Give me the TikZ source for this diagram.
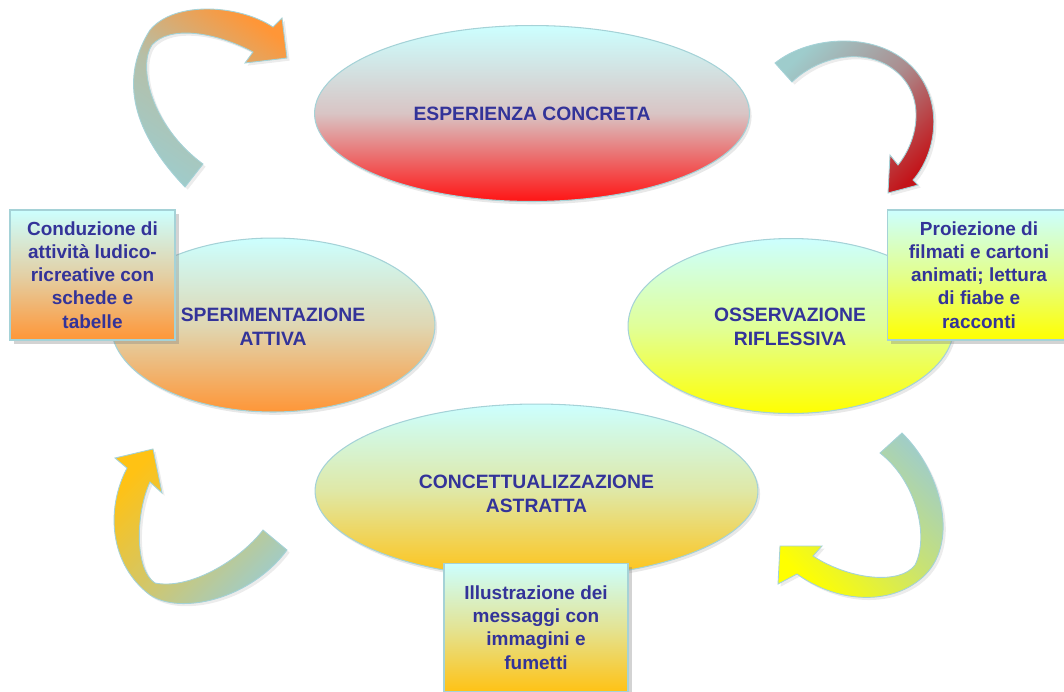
\documentclass[tikz,border=0pt]{standalone}
\usepackage{fontspec}
\setmainfont{Liberation Sans}
\usetikzlibrary{positioning,shapes.geometric,shadows}

\definecolor{paleCyan}{RGB}{204,255,255}
\definecolor{ribbonCyan}{RGB}{158,204,204}
\definecolor{hotRed}{RGB}{255,20,20}
\definecolor{deepRed}{RGB}{195,20,25}
\definecolor{warmOrange}{RGB}{255,150,55}
\definecolor{sunYellow}{RGB}{255,255,0}
\definecolor{goldYellow}{RGB}{255,194,20}
\definecolor{inkBlue}{RGB}{51,51,153}
\definecolor{rimBlue}{RGB}{165,210,215}

\tikzset{
  phase/.style={ellipse, inner sep=0pt, draw=rimBlue, line width=0.6pt, top color=paleCyan,
    drop shadow={opacity=0.18, shadow xshift=1.2pt, shadow yshift=-1.6pt}},
  phasetext/.style={font=\fontsize{11}{13.6}\selectfont\bfseries, text=inkBlue, align=center},
  actbox/.style={rectangle, inner sep=0pt, minimum height=2.6cm, draw=rimBlue, line width=0.6pt,
    top color=paleCyan, font=\fontsize{10.8}{13.2}\selectfont\bfseries, text=inkBlue, align=center,
    drop shadow={opacity=0.35, shadow xshift=2pt, shadow yshift=-2pt}},
  ribbon/.style={draw=rimBlue, line width=0.5pt,
    drop shadow={opacity=0.15, shadow xshift=1.5pt, shadow yshift=-1.5pt}}
}

\begin{document}
\begin{tikzpicture}[x=0.02cm, y=-0.02cm]
  \useasboundingbox (0,0) rectangle (1064,691);

  % the four phases of the cycle
  \node[phase, minimum width=8.7cm, minimum height=3.52cm, bottom color=hotRed, middle color=paleCyan!75!hotRed] (concrete) at (532,113.5) {};
  \node[phase, minimum width=6.48cm, minimum height=3.48cm, bottom color=warmOrange, middle color=paleCyan!62!warmOrange] (active) at (273,325) {};
  \node[phase, minimum width=6.52cm, minimum height=3.5cm, bottom color=sunYellow, middle color=paleCyan!60!sunYellow] (reflect) at (791,326) {};
  \node[phase, minimum width=8.86cm, minimum height=3.48cm, bottom color=goldYellow, middle color=paleCyan!62!goldYellow] (abstract) at (536.5,491) {};

  \node[phasetext] (concreteText) at (532,114) {ESPERIENZA CONCRETA};
  \node[phasetext] (activeText) at (273,327) {SPERIMENTAZIONE\\ATTIVA};
  \node[phasetext] (reflectText) at (790,327) {OSSERVAZIONE\\RIFLESSIVA};
  \node[phasetext] (abstractText) at (536.5,493.5) {CONCETTUALIZZAZIONE\\ASTRATTA};

  % activities
  \node[actbox, minimum width=3.3cm, bottom color=warmOrange, middle color=paleCyan!55!warmOrange] (activeBox) at (92.5,275) {Conduzione di\\attività ludico-\\ricreative con\\schede e\\tabelle};
  \node[actbox, minimum width=3.68cm, bottom color=sunYellow, middle color=paleCyan!55!sunYellow] (reflectBox) at (979,275) {Proiezione di\\filmati e cartoni\\animati; lettura\\di fiabe e\\racconti};
  \node[actbox, minimum width=3.68cm, minimum height=2.58cm, bottom color=goldYellow, middle color=paleCyan!55!goldYellow] (abstractBox) at (536,627.5) {Illustrazione dei\\messaggi con\\immagini e\\fumetti};

  % curved arrows
  \path[ribbon, bottom color=ribbonCyan, top color=warmOrange, middle color=ribbonCyan!75!warmOrange, shading angle=-34]
    (185,187) .. controls (140,140) and (115,85) .. (150,30) .. controls (175,0) and (240,5) .. (273,27)
    -- (282,18) -- (287,58) -- (245,63) -- (253,52)
    .. controls (215,32) and (170,25) .. (152,45) .. controls (138,65) and (150,125) .. (203,164) -- cycle;
  \path[ribbon, top color=ribbonCyan, bottom color=deepRed, middle color=ribbonCyan!65!deepRed, shading angle=45]
    (775,63) .. controls (810,35) and (880,30) .. (915,70) .. controls (945,105) and (935,155) .. (913,180)
    -- (918,185) -- (888,193) -- (890,155) -- (898,165)
    .. controls (918,140) and (925,100) .. (900,75) .. controls (870,45) and (820,55) .. (792,82) -- cycle;
  \path[ribbon, top color=goldYellow, bottom color=ribbonCyan, middle color=ribbonCyan!45!goldYellow, shading angle=45]
    (287,550) .. controls (250,600) and (180,615) .. (150,595) .. controls (110,565) and (105,510) .. (127,468)
    -- (115,458) -- (153,449) -- (162,493) -- (150,482)
    .. controls (135,515) and (135,570) .. (155,583) .. controls (190,590) and (240,560) .. (263,530) -- cycle;
  \path[ribbon, top color=ribbonCyan, bottom color=sunYellow, middle color=ribbonCyan!55!sunYellow, shading angle=-45]
    (902,433) .. controls (940,470) and (960,540) .. (925,575) .. controls (895,605) and (840,605) .. (797,574)
    -- (778,584) -- (780,546) -- (822,546) -- (813,556)
    .. controls (850,580) and (900,585) .. (915,565) .. controls (930,535) and (915,480) .. (880,453) -- cycle;
\end{tikzpicture}
\end{document}
